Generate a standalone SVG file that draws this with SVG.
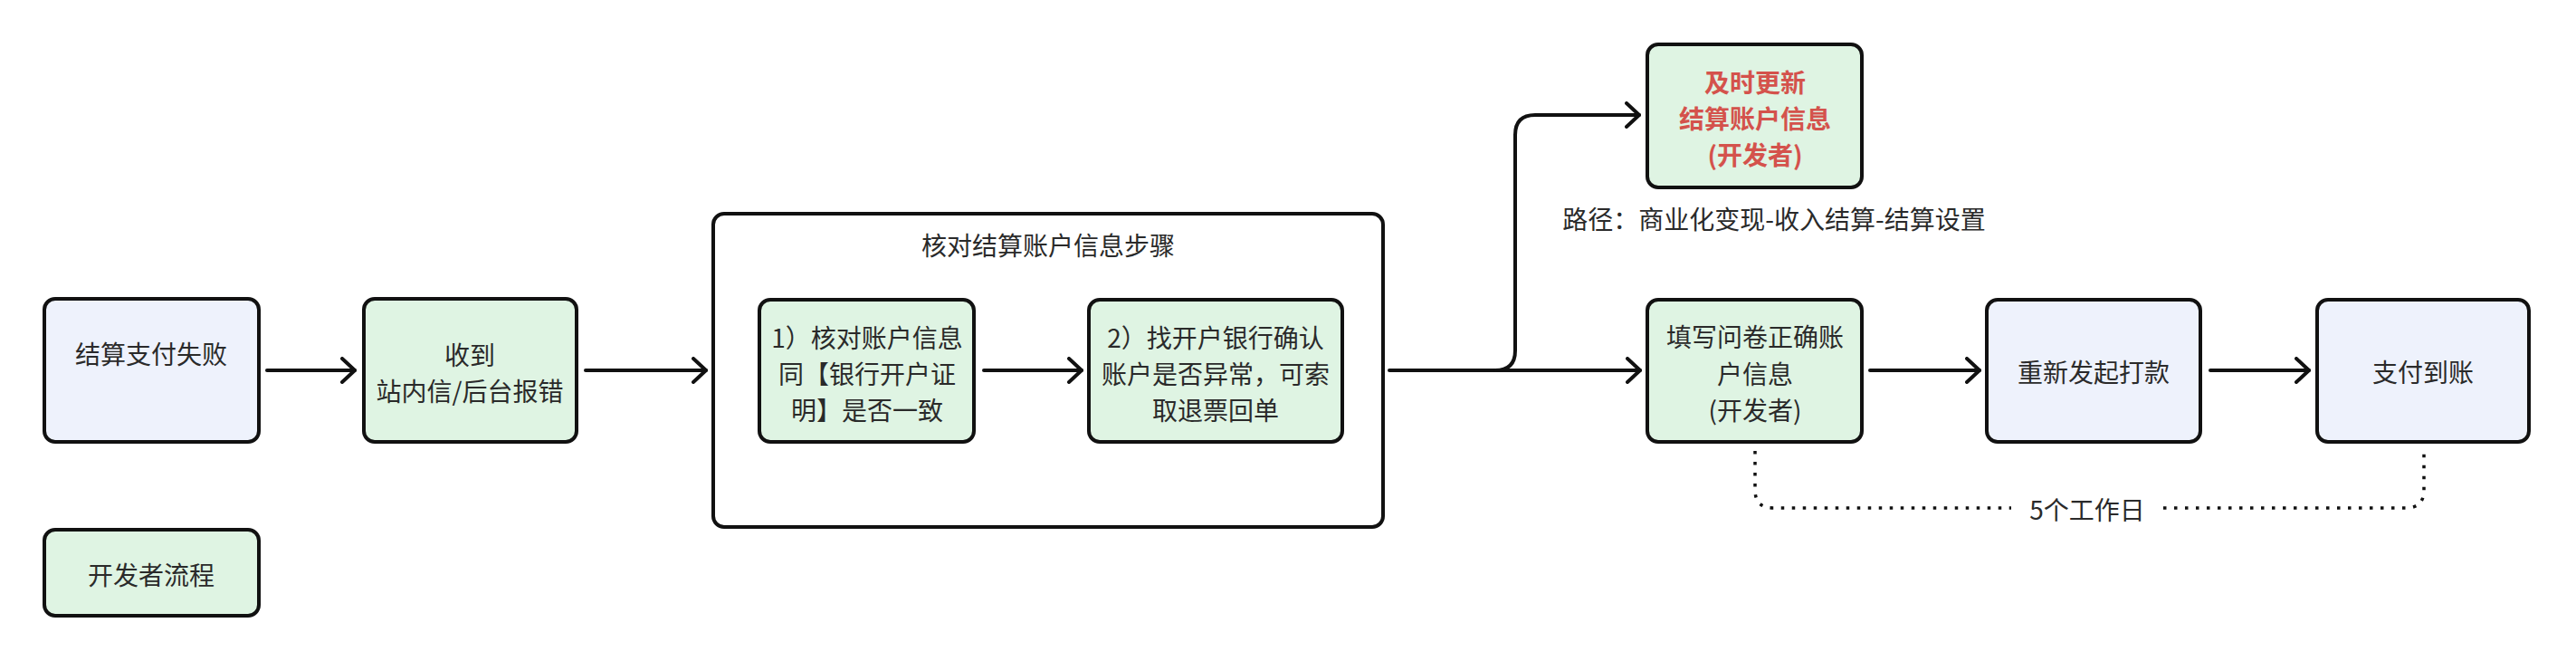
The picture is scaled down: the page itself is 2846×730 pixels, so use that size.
<svg xmlns="http://www.w3.org/2000/svg" width="2846" height="730" viewBox="0 0 2846 730">
  <style>
    .box { stroke: #111; stroke-width: 4; }
    .green { fill: #dff4e3; }
    .blue { fill: #eef2fc; }
    .frame { fill: #ffffff; stroke: #111; stroke-width: 4; }
    .t { font-family: "Noto Sans CJK SC", "Noto Sans", sans-serif; font-size: 28px; fill: #2a2a2a; text-anchor: middle; dominant-baseline: central; }
    .red { fill: #d4524c; font-weight: bold; }
    .conn { fill: none; stroke: #111; stroke-width: 4; stroke-linecap: round; stroke-linejoin: round; }
    .dot { fill: none; stroke: #111; stroke-width: 3.5; stroke-dasharray: 3.5 8.5; }
  </style>
  <defs>
    <marker id="arr" markerUnits="userSpaceOnUse" viewBox="0 0 18 30" refX="16" refY="15" markerWidth="18" markerHeight="30" orient="auto">
      <path d="M2,2 L16,15 L2,28" fill="none" stroke="#111" stroke-width="4" stroke-linecap="round" stroke-linejoin="round"/>
    </marker>
  </defs>
  <rect width="2846" height="730" fill="#ffffff"/>

  <g id="container">
    <rect class="frame" x="788" y="236" width="740" height="346" rx="12"/>
    <text class="t" x="1158" y="270">核对结算账户信息步骤</text>
  </g>

  <g id="n-fail">
    <rect class="box blue" x="49" y="330" width="237" height="158" rx="12"/>
    <text class="t" x="167" y="390">结算支付失败</text>
  </g>
  <g id="n-receive">
    <rect class="box green" x="402" y="330" width="235" height="158" rx="12"/>
    <text class="t" x="519" y="391">收到</text>
    <text class="t" x="519" y="431">站内信/后台报错</text>
  </g>
  <g id="n-legend">
    <rect class="box green" x="49" y="585" width="237" height="95" rx="12"/>
    <text class="t" x="167" y="634">开发者流程</text>
  </g>
  <g id="n-step1">
    <rect class="box green" x="839" y="331" width="237" height="157" rx="12"/>
    <text class="t" x="958" y="372">1）核对账户信息</text>
    <text class="t" x="958" y="412">同【银行开户证</text>
    <text class="t" x="958" y="452">明】是否一致</text>
  </g>
  <g id="n-step2">
    <rect class="box green" x="1203" y="331" width="280" height="157" rx="12"/>
    <text class="t" x="1343" y="372">2）找开户银行确认</text>
    <text class="t" x="1343" y="412">账户是否异常，可索</text>
    <text class="t" x="1343" y="452">取退票回单</text>
  </g>
  <g id="n-update">
    <rect class="box green" x="1820" y="49" width="237" height="158" rx="12"/>
    <text class="t red" x="1939" y="90">及时更新</text>
    <text class="t red" x="1939" y="130">结算账户信息</text>
    <text class="t red" x="1939" y="170">(开发者)</text>
  </g>
  <g id="n-path">
    <text class="t" x="1960" y="241">路径：商业化变现-收入结算-结算设置</text>
  </g>
  <g id="n-fill">
    <rect class="box green" x="1820" y="331" width="237" height="157" rx="12"/>
    <text class="t" x="1939" y="371">填写问卷正确账</text>
    <text class="t" x="1939" y="412">户信息</text>
    <text class="t" x="1939" y="452">(开发者)</text>
  </g>
  <g id="n-repay">
    <rect class="box blue" x="2195" y="331" width="236" height="157" rx="12"/>
    <text class="t" x="2313" y="410">重新发起打款</text>
  </g>
  <g id="n-arrive">
    <rect class="box blue" x="2560" y="331" width="234" height="157" rx="12"/>
    <text class="t" x="2677" y="410">支付到账</text>
  </g>

  <g id="connectors">
    <path class="conn" d="M295,409 H392" marker-end="url(#arr)"/>
    <path class="conn" d="M647,409 H780" marker-end="url(#arr)"/>
    <path class="conn" d="M1087,409 H1195" marker-end="url(#arr)"/>
    <path class="conn" d="M1535,409 H1812" marker-end="url(#arr)"/>
    <path class="conn" d="M1652,409 Q1674,409 1674,387 V149 Q1674,127 1696,127 H1811" marker-end="url(#arr)"/>
    <path class="conn" d="M2066,409 H2187" marker-end="url(#arr)"/>
    <path class="conn" d="M2442,409 H2551" marker-end="url(#arr)"/>
    <path class="dot" d="M1939,498 V541 Q1939,561 1959,561 H2222"/>
    <path class="dot" d="M2390,561 H2658 Q2678,561 2678,541 V498"/>
    <text class="t" x="2306" y="562">5个工作日</text>
  </g>
</svg>
